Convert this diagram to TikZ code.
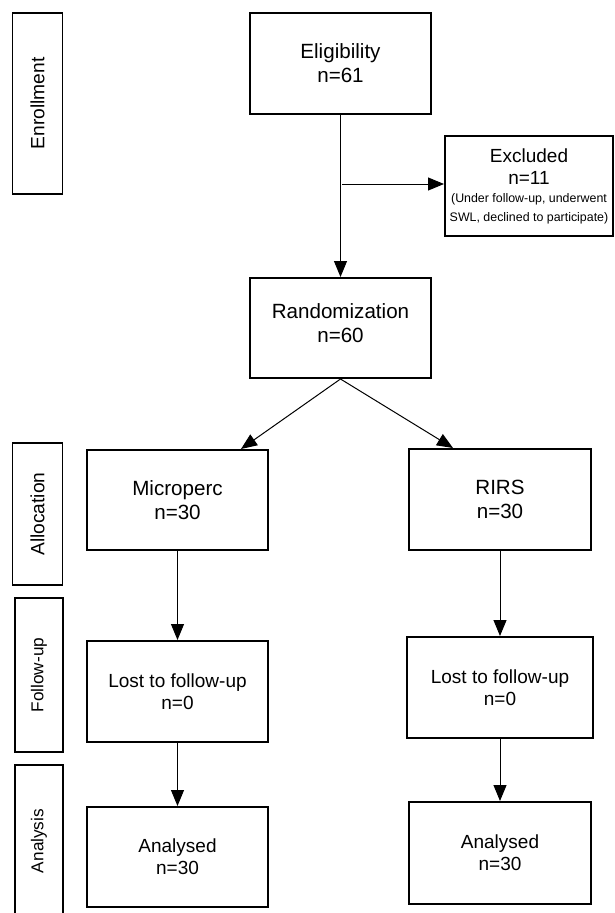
\documentclass[tikz,border=0pt]{standalone}
\usepackage{fontspec}
\setmainfont{Liberation Sans}
\usetikzlibrary{arrows.meta,calc}
\newcommand\smalltxt{\fontsize{12.4}{19}\selectfont}
\begin{document}
\begin{tikzpicture}[x=1pt,y=-1pt,
 box/.style={draw,line width=2pt,inner sep=0pt,align=center,font=\fontsize{20.6}{24}\selectfont},
 boxs/.style={box,font=\fontsize{19}{22}\selectfont},
 lab/.style={draw,line width=1.5pt,inner sep=0pt,rotate=90,font=\fontsize{19.2}{22}\selectfont},
 labs/.style={lab,font=\fontsize{17.2}{20}\selectfont},
 arr/.style={line width=1pt,-{Triangle[length=16pt,width=13pt]}}]
\useasboundingbox (0,0) rectangle (614,913);
\fill[white] (0,0) rectangle (614,913);
% stage labels
\node[lab,minimum width=181pt,minimum height=50pt] (lenr) at (37.5,103.5) {Enrollment};
\node[lab,minimum width=142pt,minimum height=50pt] (lall) at (37.5,514) {Allocation};
\node[labs,minimum width=154pt,minimum height=48pt] (lfol) at (39,675) {Follow-up};
\draw[line width=1.5pt] (15,935) -- (15,765) -- (63,765) -- (63,935);
\node[font=\fontsize{17.2}{20}\selectfont,rotate=90] (lana) at (39,841) {Analysis};
% boxes
\node[box,minimum width=181pt,minimum height=101pt] (elig) at (340.5,63.5) {Eligibility\\n=61};
\node[boxs,minimum width=168pt,minimum height=100pt] (excl) at (529,186)
  {Excluded\\n=11\\[-4pt]{\smalltxt (Under follow-up, underwent}\\[-3pt]{\smalltxt SWL, declined to participate)}};
\node[box,minimum width=181pt,minimum height=100pt] (rand) at (340.5,328) {Randomization\\n=60\rule[-9pt]{0pt}{0pt}};
\node[box,minimum width=181pt,minimum height=100pt] (micro) at (177.5,500) {Microperc\\n=30};
\node[box,minimum width=182pt,minimum height=101pt] (rirs) at (500,499.5) {RIRS\\n=30};
\node[boxs,minimum width=181pt,minimum height=101pt] (lostl) at (177.5,691.5) {Lost to follow-up\\n=0};
\node[boxs,minimum width=186pt,minimum height=101pt] (lostr) at (500,687.5) {Lost to follow-up\\n=0};
\node[boxs,minimum width=181pt,minimum height=100pt] (anal) at (177.5,857) {Analysed\\n=30};
\node[boxs,minimum width=182pt,minimum height=102pt] (anar) at (500,853) {Analysed\\n=30};
% connectors
\draw[arr] (elig.south) -- (rand.north);
\coordinate (split) at (342,184);
\draw[arr] (split) -- (split -| excl.west);
\draw[arr] (rand.south) -- ($(micro.north)+(63.5,0)$);
\draw[arr] (rand.south) -- ($(rirs.north)+(-47,0)$);
\draw[arr] (micro.south) -- (lostl.north);
\draw[arr] (rirs.south) -- (lostr.north);
\draw[arr] (lostl.south) -- (anal.north);
\draw[arr] (lostr.south) -- (anar.north);
\end{tikzpicture}
\end{document}
